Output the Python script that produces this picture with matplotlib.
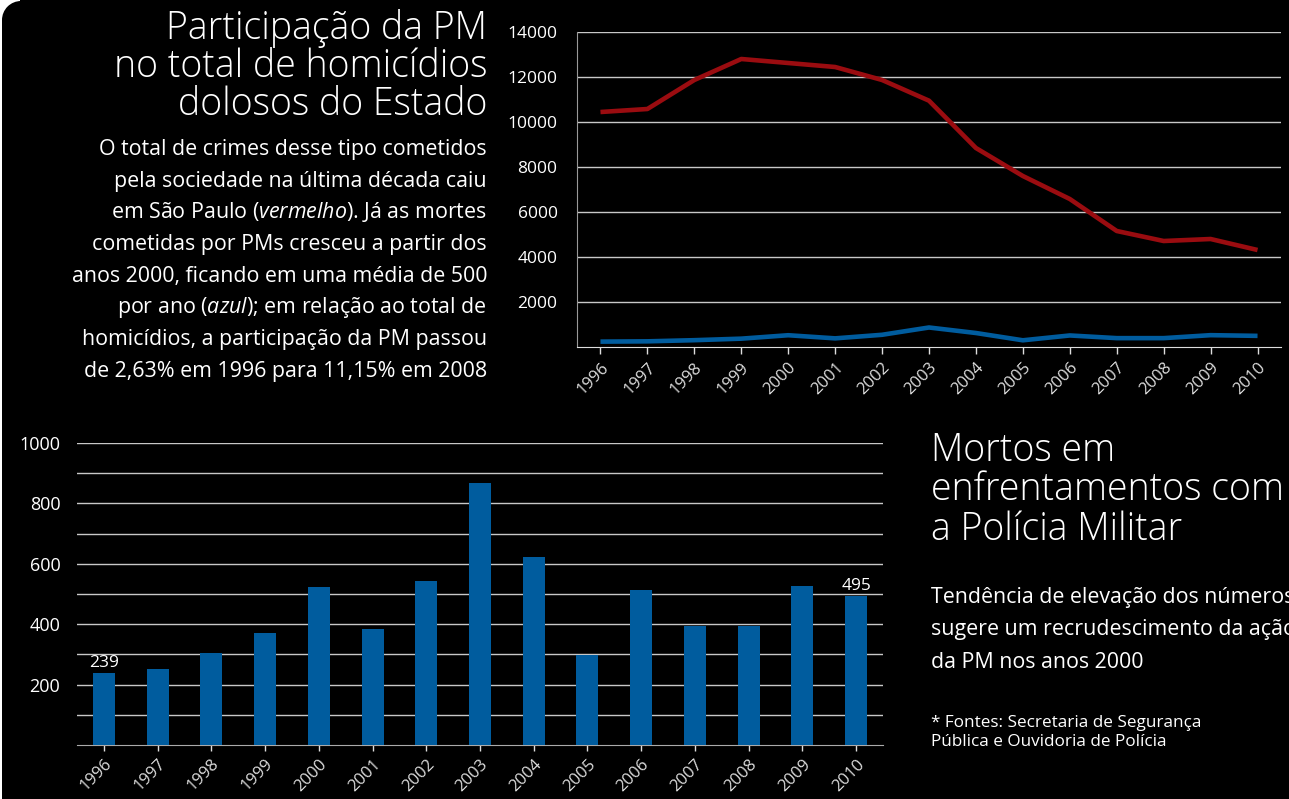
import matplotlib.pyplot as plt
from matplotlib.patches import Circle, Rectangle

plt.rcParams['font.family'] = ['Open Sans', 'DejaVu Sans']
plt.rcParams['mathtext.fontset'] = 'custom'
plt.rcParams['mathtext.rm'] = 'Open Sans'
plt.rcParams['mathtext.it'] = 'Open Sans:italic'

years = [str(y) for y in range(1996, 2011)]
total_homicidios = [10444, 10578, 11867, 12800, 12622, 12444, 11867, 10947,
                    8844, 7600, 6578, 5156, 4711, 4800, 4311]
mortos_pm = [239, 252, 303, 371, 523, 384, 543, 867, 622, 298, 513, 394, 394, 526, 495]

top_yticks = [2000, 4000, 6000, 8000, 10000, 12000, 14000]
bar_yticks = [200, 400, 600, 800, 1000]
bar_grid = [100, 200, 300, 400, 500, 600, 700, 800, 900, 1000]

titulo = ['Participação da PM', 'no total de homicídios', 'dolosos do Estado']
texto = ['O total de crimes desse tipo cometidos',
         'pela sociedade na última década caiu',
         r'em São Paulo ($\mathit{vermelho}$). Já as mortes',
         'cometidas por PMs cresceu a partir dos',
         'anos 2000, ficando em uma média de 500',
         r'por ano ($\mathit{azul}$); em relação ao total de',
         'homicídios, a participação da PM passou',
         'de 2,63% em 1996 para 11,15% em 2008']
titulo2 = ['Mortos em', 'enfrentamentos com', 'a Polícia Militar']
texto2 = ['Tendência de elevação dos números',
          'sugere um recrudescimento da ação',
          'da PM nos anos 2000']
fontes = ['* Fontes: Secretaria de Segurança', 'Pública e Ouvidoria de Polícia']

RED = '#9a0c10'
BLUE = '#005c9e'
GRID = '#c8c8c8'

W, H = 1289, 799
fig = plt.figure(figsize=(W / 100, H / 100), dpi=100, facecolor='black')

# white page edge on the left and rounded top-left corner of the card
fig.patches.append(Rectangle((0, 0), 2, H, transform=None, facecolor='white',
                             edgecolor='none', zorder=-10))
fig.patches.append(Rectangle((0, H - 20), 20, 20, transform=None, facecolor='white',
                             edgecolor='none', zorder=-10))
fig.patches.append(Circle((21, H - 20), 19, transform=None, facecolor='black',
                          edgecolor='none', zorder=-9))


def fig_rect(x0, y0, x1, y1):
    return [x0 / W, 1 - y1 / H, (x1 - x0) / W, (y1 - y0) / H]


def px_text(xp, yp, s, **kw):
    fig.text(xp / W, 1 - yp / H, s, color='white', va='baseline', **kw)


# ---- top line chart
ax1 = fig.add_axes(fig_rect(577, 32, 1281, 347))
ax1.set_facecolor('black')
x = list(range(len(years)))
ax1.plot(x, total_homicidios, color=RED, lw=3.3, solid_capstyle='butt', zorder=3)
ax1.plot(x, mortos_pm, color=BLUE, lw=3.3, solid_capstyle='butt', zorder=3)
ax1.set_xlim(-0.5, 14.5)
ax1.set_ylim(0, 14000)
ax1.set_yticks(top_yticks)
for v in top_yticks:
    ax1.axhline(v, color=GRID, lw=1, zorder=1)
ax1.set_xticks(x)
ax1.set_xticklabels(years, rotation=45, ha='right', rotation_mode='anchor')
ax1.tick_params(axis='x', colors='#dddddd', length=5, width=1, labelsize=12, pad=4)
ax1.tick_params(axis='y', colors='white', length=0, labelsize=12.5, pad=14)
for s in ['top', 'right']:
    ax1.spines[s].set_visible(False)
ax1.spines['left'].set_color('#999999')
ax1.spines['bottom'].set_color('#dddddd')

# ---- bottom bar chart
ax2 = fig.add_axes(fig_rect(77, 443, 883, 745))
ax2.set_facecolor('black')
ax2.bar(x, mortos_pm, width=0.41, color=BLUE, zorder=3)
ax2.set_xlim(-0.5, 14.5)
ax2.set_ylim(0, 1000)
for v in bar_grid:
    ax2.axhline(v, color=GRID, lw=1, zorder=1)
ax2.set_yticks(bar_yticks)
ax2.set_xticks(x)
ax2.set_xticklabels(years, rotation=45, ha='right', rotation_mode='anchor')
ax2.tick_params(axis='x', colors='#dddddd', length=4, width=1, labelsize=12, pad=4)
ax2.tick_params(axis='y', colors='white', length=0, labelsize=13, pad=12)
for s in ['top', 'right', 'left']:
    ax2.spines[s].set_visible(False)
ax2.spines['bottom'].set_color('#aaaaaa')
ax2.text(x[0], mortos_pm[0] + 6, str(mortos_pm[0]), color='white', ha='center',
         va='bottom', fontsize=12.5, zorder=4)
ax2.text(x[-1], mortos_pm[-1] + 6, str(mortos_pm[-1]), color='white', ha='center',
         va='bottom', fontsize=12.5, zorder=4)

# ---- texts
for i, line in enumerate(titulo):
    px_text(487, 39 + i * 38, line, ha='right', fontsize=27, fontweight='light')
for i, line in enumerate(texto):
    px_text(487, 155 + i * 31.7, line, ha='right', fontsize=15.4)
for i, line in enumerate(titulo2):
    px_text(931, 461 + i * 39.5, line, ha='left', fontsize=27, fontweight='light')
for i, line in enumerate(texto2):
    px_text(931, 603 + i * 32.5, line, ha='left', fontsize=15.4)
for i, line in enumerate(fontes):
    px_text(931, 727 + i * 19, line, ha='left', fontsize=12.3)

fig.savefig('out.png', dpi=100, facecolor='black')
